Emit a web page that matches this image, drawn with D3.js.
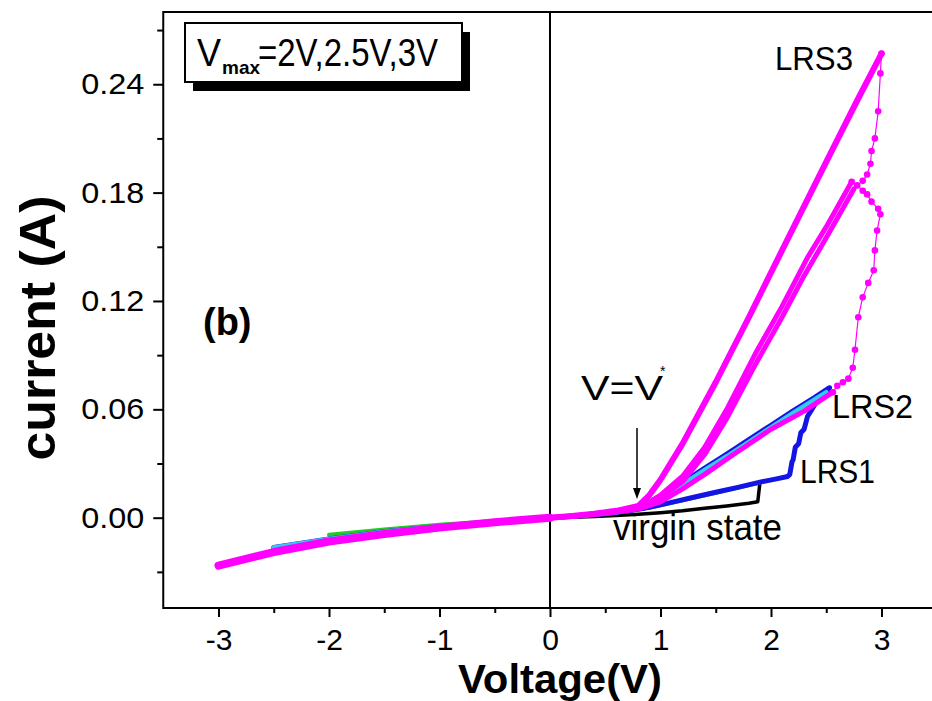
<!DOCTYPE html>
<html>
<head>
<meta charset="utf-8">
<script src="https://cdn.jsdelivr.net/npm/d3@7"></script>
<style>
  html, body { margin: 0; padding: 0; background: #fff; }
  svg { display: block; }
  text { font-family: "Liberation Sans", Arial, sans-serif; }
</style>
</head>
<body>
<div id="chart"></div>
<script>
// ---------- data ----------
const xTicks = [-3, -2, -1, 0, 1, 2, 3];
const xMinorTicks = [-2.5, -1.5, -0.5, 0.5, 1.5, 2.5];
const yTicks = [0.00, 0.06, 0.12, 0.18, 0.24];
const yMinorTicks = [-0.03, 0.03, 0.09, 0.15, 0.21, 0.27];

// virgin state (black)
const virginV = [0, 0.2, 0.4, 0.6, 0.8, 1.0, 1.2, 1.4, 1.6, 1.8, 1.88, 1.9];
const virginI = [0, 0.0003, 0.0007, 0.0012, 0.0019, 0.0028, 0.0038, 0.0052, 0.0065, 0.0080, 0.0088, 0.0195];

// Vmax = 2 V sweep, LRS1 return + negative (green)
const greenV = [1.9, 1.7, 1.5, 1.3, 1.1, 0.9, 0.7, 0.5, 0.3, 0.1, 0, -0.5, -1.0, -1.5, -2.0];
const greenI = [0.0195, 0.0165, 0.0138, 0.011, 0.0082, 0.0056, 0.0036, 0.0021, 0.0011, 0.0003, 0, -0.0018, -0.0039, -0.0065, -0.0095];

// Vmax = 2.5 V sweep (blue): LRS1 forward, set steps, LRS2 return, negative
const blueV = [0, 0.3, 0.5, 0.7, 0.9, 1.1, 1.3, 1.5, 1.7, 1.9, 2.05, 2.15, 2.17, 2.19, 2.2, 2.22, 2.25, 2.27, 2.3, 2.33, 2.36, 2.4, 2.45, 2.5, 2.53,
               2.4, 2.2, 2.0, 1.8, 1.6, 1.4, 1.2, 1.0, 0.9, 0.8, 0.6, 0.4, 0.2, 0, -0.5, -1.0, -1.5, -2.0, -2.5];
const blueI = [0, 0.0012, 0.0022, 0.0037, 0.0058, 0.0085, 0.0113, 0.0141, 0.0168, 0.0197, 0.0215, 0.0228, 0.024, 0.031, 0.032, 0.039, 0.041, 0.047, 0.049, 0.056, 0.059, 0.063, 0.066, 0.069, 0.072,
               0.0668, 0.0592, 0.0512, 0.0432, 0.0352, 0.0274, 0.0194, 0.0118, 0.0082, 0.0054, 0.0032, 0.0018, 0.0008, 0, -0.0022, -0.0048, -0.0078, -0.0118, -0.0165];

// LRS2 return + negative (cyan)
const cyanV = [2.5, 2.2, 2.0, 1.8, 1.6, 1.4, 1.2, 1.0, 0.9, 0.8, 0.6, 0.4, 0.2, 0, -0.5, -1.0, -1.5, -2.0, -2.5];
const cyanI = [0.0695, 0.058, 0.050, 0.042, 0.034, 0.0265, 0.0185, 0.011, 0.0078, 0.0052, 0.003, 0.0017, 0.0008, 0, -0.0022, -0.0048, -0.0078, -0.0118, -0.0165];

// Vmax = 3 V sweeps (magenta)
const magNegV = [0, -0.5, -1.0, -1.5, -2.0, -2.5, -3.0];
const magNegI = [0, -0.0025, -0.0055, -0.009, -0.0132, -0.019, -0.0265];
const magLrs2V = [0, 0.2, 0.4, 0.6, 0.8, 1.0, 1.2, 1.4, 1.66, 2.0, 2.3, 2.56];
const magLrs2I = [0, 0.0008, 0.0018, 0.0032, 0.0048, 0.0088, 0.016, 0.024, 0.035, 0.049, 0.059, 0.0695];
const magSetV = [2.56, 2.6, 2.65, 2.7, 2.74, 2.76, 2.79, 2.83, 2.88, 2.93, 2.94, 2.96, 2.99, 2.97, 2.91, 2.87, 2.83, 2.78, 2.73];
const magSetI = [0.0695, 0.073, 0.075, 0.077, 0.083, 0.093, 0.111, 0.122, 0.130, 0.137, 0.148, 0.159, 0.168, 0.171, 0.175, 0.179, 0.181, 0.184, 0.186];
const magMidAV = [2.73, 2.5, 2.33, 2.1, 1.86, 1.6, 1.4, 1.2, 1.0, 0.9, 0.8, 0.6, 0.4, 0.2, 0];
const magMidAI = [0.186, 0.161, 0.144, 0.117, 0.091, 0.060, 0.039, 0.023, 0.0125, 0.0088, 0.0058, 0.0035, 0.002, 0.0009, 0];
const magMidBV = [2.75, 2.5, 2.3, 2.1, 1.86, 1.6, 1.4, 1.2, 1.0, 0.8];
const magMidBI = [0.182, 0.155, 0.134, 0.111, 0.085, 0.055, 0.035, 0.020, 0.011, 0.0055];
const magTopThinV = [2.83, 2.87, 2.9, 2.91, 2.94, 2.97, 2.99, 3.0];
const magTopThinI = [0.1865, 0.19, 0.196, 0.203, 0.21, 0.225, 0.246, 0.257];
const magTopV = [3.0, 2.78, 2.5, 2.1, 1.8, 1.5, 1.2, 1.0, 0.9, 0.8, 0.6, 0.4, 0.2, 0];
const magTopI = [0.257, 0.231, 0.197, 0.148, 0.111, 0.075, 0.041, 0.021, 0.0125, 0.0065, 0.0038, 0.0022, 0.001, 0];

// ---------- layout ----------
const W = 932, H = 701;
const svg = d3.select("#chart").append("svg").attr("width", W).attr("height", H);

const x = d3.scaleLinear().domain([-3.5, 3.5]).range([163.25, 936.75]);
const y = d3.scaleLinear().domain([-0.05, 0.28]).range([608, 12]);

const plot = svg.append("g");
plot.append("defs").append("clipPath").attr("id", "clip")
  .append("rect").attr("x", x(-3.5)).attr("y", y(0.28)).attr("width", x(3.5) - x(-3.5)).attr("height", y(-0.05) - y(0.28));

// frame
plot.append("rect")
  .attr("x", x(-3.5)).attr("y", y(0.28))
  .attr("width", x(3.5) - x(-3.5)).attr("height", y(-0.05) - y(0.28))
  .attr("fill", "none").attr("stroke", "#000").attr("stroke-width", 2);

// x = 0 line
plot.append("line")
  .attr("x1", x(0)).attr("x2", x(0)).attr("y1", y(0.28)).attr("y2", y(-0.05))
  .attr("stroke", "#000").attr("stroke-width", 2);

// axes
const xAxis = svg.append("g").attr("transform", `translate(0,${y(-0.05)})`)
  .call(d3.axisBottom(x).tickValues(xTicks).tickSize(9).tickPadding(12).tickFormat(d => String(d)));
const xMinor = svg.append("g").attr("transform", `translate(0,${y(-0.05)})`)
  .call(d3.axisBottom(x).tickValues(xMinorTicks).tickSize(5).tickFormat(""));
const yAxis = svg.append("g").attr("transform", `translate(${x(-3.5)},0)`)
  .call(d3.axisLeft(y).tickValues(yTicks).tickSize(10).tickPadding(9).tickFormat(d3.format(".2f")));
const yMinor = svg.append("g").attr("transform", `translate(${x(-3.5)},0)`)
  .call(d3.axisLeft(y).tickValues(yMinorTicks).tickSize(6).tickFormat(""));

[xAxis, xMinor, yAxis, yMinor].forEach(g => {
  g.select(".domain").remove();
  g.selectAll(".tick line").attr("stroke", "#000").attr("stroke-width", 2);
  g.selectAll(".tick text").attr("fill", "#000").style("font-size", "30px")
    .style("font-family", '"Liberation Sans", Arial, sans-serif');
});
yAxis.selectAll(".tick text").attr("textLength", 63).attr("lengthAdjust", "spacingAndGlyphs");

// ---------- series ----------
const line = d3.line().x(d => x(d[0])).y(d => y(d[1]));
const series = plot.append("g").attr("clip-path", "url(#clip)");

function draw(V, I, color, width, r) {
  const pts = d3.zip(V, I);
  series.append("path").datum(pts).attr("d", line)
    .attr("fill", "none").attr("stroke", color).attr("stroke-width", width)
    .attr("stroke-linejoin", "round").attr("stroke-linecap", "round");
  if (r > 0) {
    series.append("g").selectAll("circle").data(pts).join("circle")
      .attr("cx", d => x(d[0])).attr("cy", d => y(d[1])).attr("r", r).attr("fill", color);
  }
}

draw(virginV, virginI, "#000000", 3.5, 0);
draw(greenV, greenI, "#22cc22", 4, 0);
draw(blueV, blueI, "#1414e6", 5, 0);
draw(cyanV, cyanI, "#33ccf0", 4.5, 0);
draw(magNegV, magNegI, "#ff00ff", 8, 0);
draw(magLrs2V, magLrs2I, "#ff00ff", 5, 0);
draw(magMidBV, magMidBI, "#ff00ff", 5, 0);
draw(magMidAV, magMidAI, "#ff00ff", 5, 0);
draw(magTopV, magTopI, "#ff00ff", 6, 0);
draw(magSetV, magSetI, "#ff00ff", 1.2, 3.3);
draw(magTopThinV, magTopThinI, "#ff00ff", 1.2, 3.3);

// ---------- annotations ----------
// legend box
svg.append("rect").attr("x", 193).attr("y", 32).attr("width", 277).attr("height", 59).attr("fill", "#000");
svg.append("rect").attr("x", 185).attr("y", 23).attr("width", 277).attr("height", 59)
  .attr("fill", "#fff").attr("stroke", "#000").attr("stroke-width", 2);
svg.append("text").attr("x", 197).attr("y", 66).style("font-size", "39px")
  .attr("textLength", 24).attr("lengthAdjust", "spacingAndGlyphs").text("V");
svg.append("text").attr("x", 222).attr("y", 74).style("font-size", "19px").style("font-weight", "bold").text("max");
svg.append("text").attr("x", 258).attr("y", 66).style("font-size", "39px")
  .attr("textLength", 180).attr("lengthAdjust", "spacingAndGlyphs").text("=2V,2.5V,3V");

// axis titles
svg.append("text").attr("x", 560).attr("y", 693).attr("text-anchor", "middle")
  .style("font-size", "41px").style("font-weight", "bold")
  .attr("textLength", 204).attr("lengthAdjust", "spacingAndGlyphs").text("Voltage(V)");
svg.append("text").attr("transform", "translate(55,328) rotate(-90)").attr("text-anchor", "middle")
  .style("font-size", "50px").style("font-weight", "bold")
  .attr("textLength", 265).attr("lengthAdjust", "spacingAndGlyphs").text("current (A)");

// panel label
svg.append("text").attr("x", 203).attr("y", 335).style("font-size", "38px").style("font-weight", "bold").text("(b)");

// curve labels
function label(txt, x0, yb, size, len) {
  svg.append("text").attr("x", x0).attr("y", yb).style("font-size", size + "px")
    .attr("textLength", len).attr("lengthAdjust", "spacingAndGlyphs").text(txt);
}
label("LRS3", 775, 70, 33, 78);
label("LRS2", 832, 418, 33, 81);
label("LRS1", 800, 483, 33, 75);
label("virgin state", 613, 540, 37, 169);
label("V=V", 581, 400, 35, 82);
svg.append("text").attr("x", 660).attr("y", 376).style("font-size", "14px").text("*");

// arrow to V*
svg.append("line").attr("x1", 637).attr("x2", 637).attr("y1", 428).attr("y2", 490)
  .attr("stroke", "#000").attr("stroke-width", 1.5);
svg.append("path").attr("d", "M633,488 L641,488 L637,499 Z").attr("fill", "#000");
</script>
</body>
</html>
